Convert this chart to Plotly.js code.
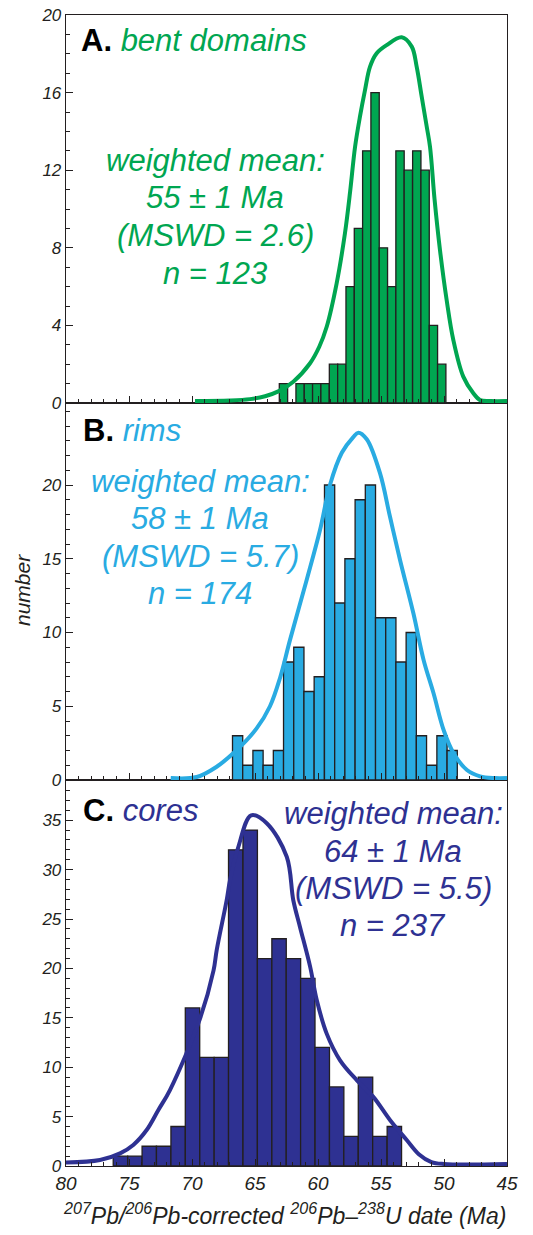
<!DOCTYPE html>
<html>
<head>
<meta charset="utf-8">
<script src="https://cdn.plot.ly/plotly-3.0.1.min.js"></script>
<style>html,body{margin:0;padding:0;background:#fff;}#chart{width:533px;height:1235px;}</style>
</head>
<body>
<div id="chart"></div>
<script>
// ---------- DATA ----------
// Panel A: bent domains (bin centres in Ma, counts)
const binCentersA = [62.74,62.08,61.42,60.76,60.10,59.44,58.77,58.11,57.45,56.79,56.13,55.47,54.81,54.15,53.49,52.83,52.16,51.50,50.84,50.18];
const binWidthA = 0.661;
const countsA = [1,0,1,1,1,1,2,2,6,9,13,16,8,6,13,12,13,12,4,2];
const curveAx = [69.76,67.0,65.4,64.2,63.15,61.96,60.63,59.9,59.31,58.52,57.86,57.45,57.06,56.67,56.27,55.87,55.34,54.55,53.36,52.56,52.17,51.77,51.37,51.11,50.75,50.32,49.79,49.26,48.47,47.67,47.14,46.3,45.0];
const curveAy = [0.1,0.13,0.2,0.35,0.6,1.1,2.05,2.9,3.93,6.17,8.75,10.9,13.2,14.76,16.13,17.34,18.03,18.45,18.85,18.37,17.34,15.79,14.24,13.21,10.5,7.89,5.31,3.25,1.36,0.5,0.15,0.1,0.1];

// Panel B: rims
const binCentersB = [66.38,65.57,64.76,63.95,63.14,62.33,61.52,60.71,59.90,59.08,58.27,57.46,56.65,55.84,55.03,54.22,53.41,52.60,51.79,50.98,50.16,49.35];
const binWidthB = 0.811;
const countsB = [3,1,2,1,2,8,9,6,7,20,12,15,19,20,11,11,8,10,3,1,3,2];
const curveBx = [71.69,69.63,68.04,66.45,64.87,63.81,63.02,62.22,60.9,59.84,59.05,58.1,57.2,56.8,56.13,55.08,54.29,53.49,52.43,51.62,50.83,50.03,49.24,48.18,47.14,46.0,45.0];
const curveBy = [0.13,0.2,0.9,2.03,3.5,5.0,6.9,9.5,13.56,16.95,20.0,22.2,23.25,23.55,23.1,20.8,17.86,14.92,11.3,8.14,5.88,3.39,1.81,0.68,0.25,0.13,0.13];

// Panel C: cores
const binCentersC = [75.68,74.53,73.39,72.25,71.10,69.96,68.81,67.67,66.53,65.38,64.24,63.09,61.95,60.81,59.66,58.52,57.38,56.23,55.09,53.94];
const binWidthC = 1.144;
const countsC = [1,1,2,2,4,16,11,11,32,34,21,23,21,19,12,8,3,9,3,4];
const curveCx = [80.0,77.3,75.71,74.66,73.6,72.67,71.75,69.37,68.29,68.04,67.25,66.98,66.32,65.3,64.07,62.48,61.96,61.43,60.63,60.1,59.31,58.25,56.93,55.61,54.29,52.96,52.0,51.0,50.0,45.0];
const curveCy = [0.35,0.6,1.28,2.13,3.64,5.67,7.69,14.9,19.8,21.86,26.9,28.95,32.3,35.5,34.7,31.3,26.9,24.2,20.2,16.8,13.4,10.7,8.7,7.0,4.66,2.63,1.2,0.4,0.2,0.2];

const xTickVals = [80,75,70,65,60,55,50,45];
const yTickValsA = [0,4,8,12,16,20];
const yTickValsB = [0,5,10,15,20];
const yTickValsC = [0,5,10,15,20,25,30,35];

const textA = ['weighted mean:', '55 ± 1 Ma', '(MSWD = 2.6)', 'n = 123'];
const textB = ['weighted mean:', '58 ± 1 Ma', '(MSWD = 5.7)', 'n = 174'];
const textC = ['weighted mean:', '64 ± 1 Ma', '(MSWD = 5.5)', 'n = 237'];

// ---------- STYLE ----------
const GREEN = '#00A651', CYAN = '#29ABE2', NAVY = '#2E3192', INK = '#231F20';
const FONT = 'Liberation Sans, Arial, Helvetica, sans-serif';

function bars(xs, w, ys, color, xa, ya) {
  return {type:'bar', x:xs, y:ys, width:xs.map(()=>w), xaxis:xa, yaxis:ya,
    marker:{color:color, line:{color:INK, width:1.3}}, hoverinfo:'skip'};
}
function curve(xs, ys, color, xa, ya) {
  return {type:'scatter', mode:'lines', x:xs, y:ys, xaxis:xa, yaxis:ya,
    line:{color:color, width:4, shape:'spline', smoothing:1}, hoverinfo:'skip'};
}

const data = [
  bars(binCentersC, binWidthC, countsC, NAVY, 'x', 'y'),
  curve(curveCx, curveCy, NAVY, 'x', 'y'),
  bars(binCentersB, binWidthB, countsB, CYAN, 'x2', 'y2'),
  curve(curveBx, curveBy, CYAN, 'x2', 'y2'),
  bars(binCentersA, binWidthA, countsA, GREEN, 'x3', 'y3'),
  curve(curveAx, curveAy, GREEN, 'x3', 'y3')
];

const baseAxis = {
  showline:true, linecolor:INK, linewidth:1.3, mirror:true,
  ticks:'inside', ticklen:7, tickwidth:1, tickcolor:INK,
  showgrid:false, zeroline:false, fixedrange:true,
  tickfont:{family:FONT, size:17, style:'italic', color:INK},
  minor:{ticks:'inside', ticklen:4, tickwidth:1, tickcolor:INK, tickmode:'linear', tick0:0, dtick:1, showgrid:false}
};
function ax(extra){ return Object.assign({}, JSON.parse(JSON.stringify(baseAxis)), extra); }

const H = 1151;
const dC = (1166-780)/H, dB = (1166-403)/H;

const layout = {
  width:533, height:1235,
  margin:{l:66, r:26, t:15, b:69, pad:0},
  paper_bgcolor:'#ffffff', plot_bgcolor:'#ffffff',
  showlegend:false, barmode:'overlay', bargap:0,
  font:{family:FONT, color:INK},
  xaxis: ax({anchor:'y', range:[80,45], tickmode:'array', tickvals:xTickVals,
    tickfont:{family:FONT, size:19, style:'italic', color:INK}}),
  xaxis2: ax({anchor:'y2', matches:'x', range:[80,45], tickmode:'array', tickvals:xTickVals, showticklabels:false}),
  xaxis3: ax({anchor:'y3', matches:'x', range:[80,45], tickmode:'array', tickvals:xTickVals, showticklabels:false}),
  yaxis: ax({domain:[0, dC], range:[0, 39.07], tickmode:'array', tickvals:yTickValsC}),
  yaxis2: ax({domain:[dC, dB], range:[0, 25.56], tickmode:'array', tickvals:yTickValsB}),
  yaxis3: ax({domain:[dB, 1], range:[0, 20.001], tickmode:'array', tickvals:yTickValsA}),
  annotations: []
};

function px2x(px){ return (px-66)/441; }
function px2y(py){ return (1166-py)/H; }
function note(text, px, py, color, size, xanchor, extra) {
  return Object.assign({xref:'paper', yref:'paper', x:px2x(px), y:px2y(py), text:text,
    showarrow:false, xanchor:xanchor||'center', yanchor:'middle', align:'center',
    font:{family:FONT, size:size, color:color}}, extra||{});
}
function block(lines, cx, ys, color) {
  lines.forEach((t, i) => layout.annotations.push(note('<i>' + t + '</i>', cx, ys[i], color, 31)));
}

layout.annotations.push(
  note("<b>A.</b> <i><span style='color:"+GREEN+"'>bent domains</span></i>", 79, 40, '#000', 31, 'left'),
  note("<b>B.</b> <i><span style='color:"+CYAN+"'>rims</span></i>", 81, 430, '#000', 31, 'left'),
  note("<b>C.</b> <i><span style='color:"+NAVY+"'>cores</span></i>", 81, 810, '#000', 31, 'left'),
  note("<i>number</i>", 22, 590, INK, 21, 'center', {textangle:-90}),
  note("<i><sup>207</sup>Pb/<sup>206</sup>Pb-corrected <sup>206</sup>Pb–<sup>238</sup>U date (Ma)</i>", 284, 1214, INK, 23)
);
block(textA, 215, [160, 198, 236, 273], GREEN);
block(textB, 200, [481, 518, 556, 593], CYAN);
block(textC, 393, [813, 851, 888, 925], NAVY);

Plotly.newPlot('chart', data, layout, {staticPlot:true, displayModeBar:false});
</script>
</body>
</html>
